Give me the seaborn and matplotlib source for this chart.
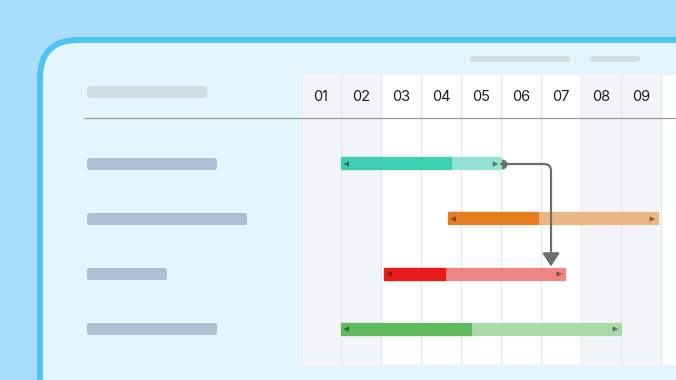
import numpy as np
import pandas as pd
import matplotlib.pyplot as plt
import seaborn as sns
from matplotlib.patches import FancyBboxPatch, FancyArrowPatch
from matplotlib.lines import Line2D

# === 1. Datos del diagrama ===
columnas = ["01", "02", "03", "04", "05", "06", "07", "08", "09"]
tareas = ["Tarea A", "Tarea B", "Tarea C", "Tarea D"]
inicio = [1.0, 3.675, 2.075, 1.0]
fin = [5.0, 8.925, 6.6, 8.0]
avance = [3.75, 5.925, 3.6, 4.25]
col_sombreadas = [0, 1, 7, 8]          # columnas con fondo gris (fin de semana)
dependencia = (0, 2)                   # la tarea A bloquea a la tarea C

color_fuerte = ["#3ecfb3", "#e67d1e", "#e81b1a", "#5fbb5e"]
color_suave = ["#93e3d5", "#eab784", "#f08584", "#a7dca6"]

df = pd.DataFrame({"tarea": tareas, "inicio": inicio, "fin": fin, "avance": avance})
df["fila"] = np.arange(len(df))

# === 2. Estilo general ===
sns.set_theme(style="white")
plt.rcParams['font.family'] = ['Inter', 'DejaVu Sans']

W, H = 676, 380
fig = plt.figure(figsize=(W / 100, H / 100), dpi=100)
fig.patch.set_facecolor("#a8def9")

# capa decorativa en pixeles
deco = fig.add_axes([0, 0, 1, 1])
deco.set_xlim(0, W)
deco.set_ylim(H, 0)
deco.axis("off")

# panel con borde redondeado
deco.add_patch(FancyBboxPatch((40, 40), 700, 400, boxstyle="round,pad=0,rounding_size=38",
                              facecolor="#e3f6fe", edgecolor="#4fc4f2", linewidth=4.3))

def barrita(x0, x1, y0, y1, color):
    deco.add_patch(FancyBboxPatch((x0, y0), x1 - x0, y1 - y0,
                                  boxstyle="round,pad=0,rounding_size=2.5",
                                  facecolor=color, edgecolor="none"))

# marcadores de texto (placeholders)
barrita(87, 207, 86, 98, "#d3dbe3")
barrita(470, 570, 56, 62, "#d3dbe3")
barrita(590, 640, 56, 62, "#d3dbe3")
ancho_etiqueta = [130, 160, 80, 130]
for i, w in enumerate(ancho_etiqueta):
    yc = 164 + 55 * i
    barrita(87, 87 + w, yc - 6, yc + 6, "#aec1d4")

# === 3. Area del gantt ===
ax = fig.add_axes([301 / W, 15 / H, 375 / W, 290 / H])
ax.set_facecolor("white")
ax.set_xlim(0, 9.375)
ax.set_ylim(3 + 36 / 55, -89 / 55)
for s in ax.spines.values():
    s.set_visible(False)
ax.set_xticks([])
ax.set_yticks([])

for c in col_sombreadas:
    ax.axvspan(c, c + 1, color="#f2f6f8", lw=0, zorder=0)
for x in range(len(columnas) + 1):
    ax.axvline(x, color="#e6eaed", lw=1, zorder=1)

for i, lab in enumerate(columnas):
    ax.text(i + 0.5, -1.22, lab, ha="center", va="center", fontsize=10.5, color="#1e1e1e")

alto = 11 / 55
ax.barh(df["fila"], df["fin"] - df["inicio"] - 0.025, left=df["inicio"] + 0.0125, height=alto,
        color=color_suave, edgecolor=color_suave, linewidth=1.6, joinstyle="round", zorder=3)
ax.barh(df["fila"], df["avance"] - df["inicio"] - 0.0125, left=df["inicio"] + 0.0125, height=alto,
        color=color_fuerte, edgecolor=color_fuerte, linewidth=1.6, joinstyle="round", zorder=4)

# asas de los extremos
asas = pd.DataFrame({
    "x": list(df["inicio"] + 0.13) + list(df["fin"] - 0.14),
    "y": list(df["fila"]) * 2,
    "lado": ["<"] * len(df) + [">"] * len(df),
})
sns.scatterplot(data=asas, x="x", y="y", style="lado", markers={"<": "<", ">": ">"},
                s=16, color="#2b2b2b", alpha=0.6, linewidth=0, legend=False, ax=ax, zorder=5)
ax.set_xlabel("")
ax.set_ylabel("")

# flecha de dependencia
a, b = dependencia
ax.plot(fin[a] + 0.03, a, "o", ms=6, color="#6e6e6e", zorder=2)
flecha = FancyArrowPatch((fin[a], a), (6.25, b - 7 / 55 - 0.01),
                         connectionstyle="angle,angleA=0,angleB=90,rad=7",
                         arrowstyle="-|>,head_length=0.4,head_width=0.26",
                         mutation_scale=20, color="#6e6e6e", lw=1.6,
                         shrinkA=0, shrinkB=0, zorder=6)
ax.add_patch(flecha)

# linea de cabecera
fig.add_artist(Line2D([84 / W, 1], [1 - 118 / H] * 2, transform=fig.transFigure,
                      color="#999999", lw=0.9))

fig.savefig("out.png", dpi=100, facecolor=fig.get_facecolor())
